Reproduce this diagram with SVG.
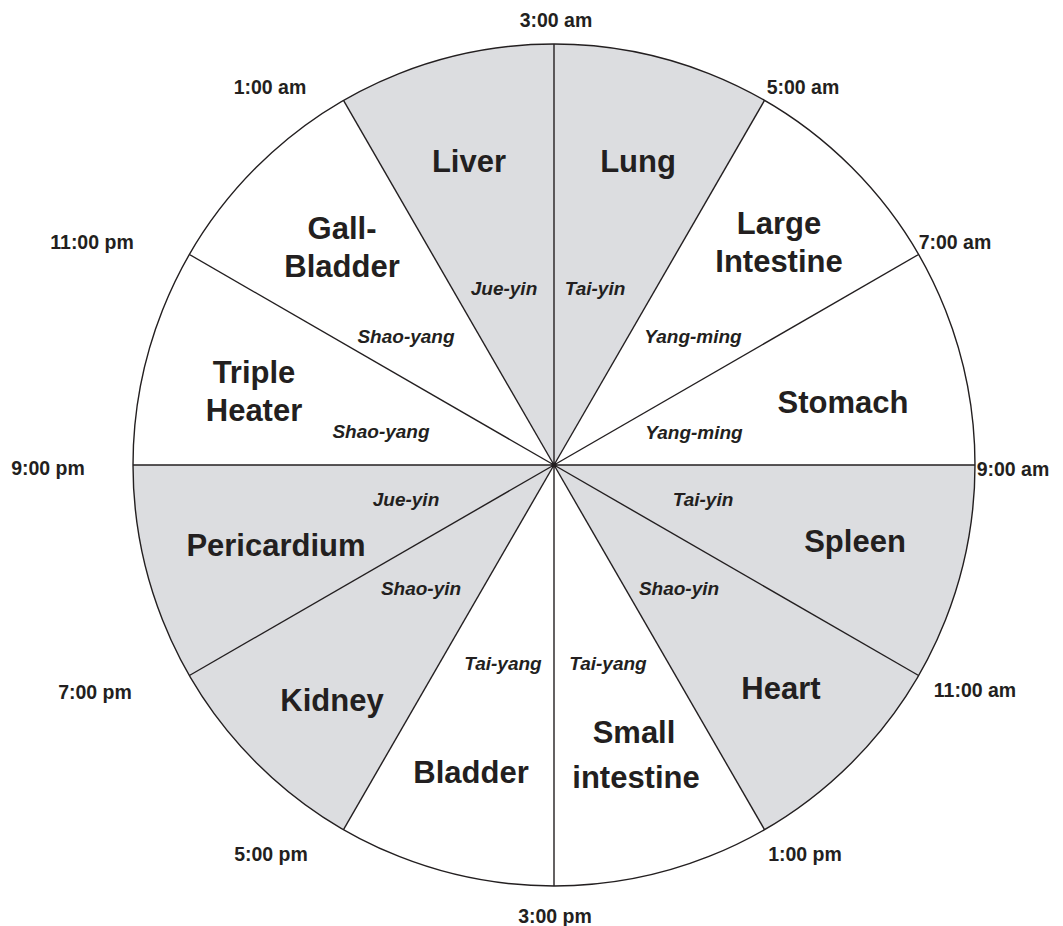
<svg xmlns="http://www.w3.org/2000/svg" width="1063" height="926" viewBox="0 0 1063 926">
<style>
text{font-family:"Liberation Sans",Arial,sans-serif;font-weight:bold;fill:#231f20;text-anchor:middle}
.o{font-size:31px}
.t{font-size:19.5px}
.m{font-size:19px;font-style:italic}
.g{fill:#dcdde0;stroke:none}
.ln{stroke:#231f20;stroke-width:1.4;fill:none}
</style>
<rect width="1063" height="926" fill="#ffffff"/>
<g id="sectors">
<path class="g" d="M554,465 L764.5,100.4 A421,421 0 0 0 343.5,100.4 Z"/>
<path class="g" d="M554,465 L133,465 A421,421 0 0 0 343.5,829.6 Z"/>
<path class="g" d="M554,465 L975,465 A421,421 0 0 1 764.5,829.6 Z"/>
</g>
<g id="spokes" class="ln">
<circle cx="554" cy="465" r="421"/>
<line x1="554" y1="465" x2="975" y2="465"/>
<line x1="554" y1="465" x2="918.6" y2="254.5"/>
<line x1="554" y1="465" x2="764.5" y2="100.4"/>
<line x1="554" y1="465" x2="554" y2="44"/>
<line x1="554" y1="465" x2="343.5" y2="100.4"/>
<line x1="554" y1="465" x2="189.4" y2="254.5"/>
<line x1="554" y1="465" x2="133" y2="465"/>
<line x1="554" y1="465" x2="189.4" y2="675.5"/>
<line x1="554" y1="465" x2="343.5" y2="829.6"/>
<line x1="554" y1="465" x2="554" y2="886"/>
<line x1="554" y1="465" x2="764.5" y2="829.6"/>
<line x1="554" y1="465" x2="918.6" y2="675.5"/>
<circle cx="554" cy="465" r="2.5" fill="#231f20" stroke="none"/>
</g>
<g id="liver"><text class="o" x="469" y="172">Liver</text></g>
<g id="lung"><text class="o" x="638" y="172">Lung</text></g>
<g id="large-intestine"><text class="o" x="779" y="234">Large</text><text class="o" x="779" y="272">Intestine</text></g>
<g id="stomach"><text class="o" x="843" y="413">Stomach</text></g>
<g id="spleen"><text class="o" x="855" y="552">Spleen</text></g>
<g id="heart"><text class="o" x="781" y="699">Heart</text></g>
<g id="small-intestine"><text class="o" x="634" y="743">Small</text><text class="o" x="636" y="788">intestine</text></g>
<g id="bladder"><text class="o" x="471" y="783">Bladder</text></g>
<g id="kidney"><text class="o" x="332" y="711">Kidney</text></g>
<g id="pericardium"><text class="o" x="276" y="556">Pericardium</text></g>
<g id="triple-heater"><text class="o" x="254" y="383">Triple</text><text class="o" x="254" y="421">Heater</text></g>
<g id="gall-bladder"><text class="o" x="342" y="239">Gall-</text><text class="o" x="342" y="277">Bladder</text></g>
<g id="meridians">
<text class="m" x="504" y="295">Jue-yin</text>
<text class="m" x="595" y="295">Tai-yin</text>
<text class="m" x="693" y="343">Yang-ming</text>
<text class="m" x="694" y="439">Yang-ming</text>
<text class="m" x="703" y="506">Tai-yin</text>
<text class="m" x="679" y="595">Shao-yin</text>
<text class="m" x="608" y="670">Tai-yang</text>
<text class="m" x="503" y="670">Tai-yang</text>
<text class="m" x="421" y="595">Shao-yin</text>
<text class="m" x="406" y="506">Jue-yin</text>
<text class="m" x="381" y="438">Shao-yang</text>
<text class="m" x="406" y="343">Shao-yang</text>
</g>
<g id="times">
<text class="t" x="556" y="27">3:00 am</text>
<text class="t" x="803" y="94">5:00 am</text>
<text class="t" x="955" y="249">7:00 am</text>
<text class="t" x="1013" y="476">9:00 am</text>
<text class="t" x="975" y="697">11:00 am</text>
<text class="t" x="805" y="861">1:00 pm</text>
<text class="t" x="555" y="923">3:00 pm</text>
<text class="t" x="271" y="861">5:00 pm</text>
<text class="t" x="95" y="699">7:00 pm</text>
<text class="t" x="48" y="475">9:00 pm</text>
<text class="t" x="92" y="249">11:00 pm</text>
<text class="t" x="270" y="94">1:00 am</text>
</g>
</svg>
